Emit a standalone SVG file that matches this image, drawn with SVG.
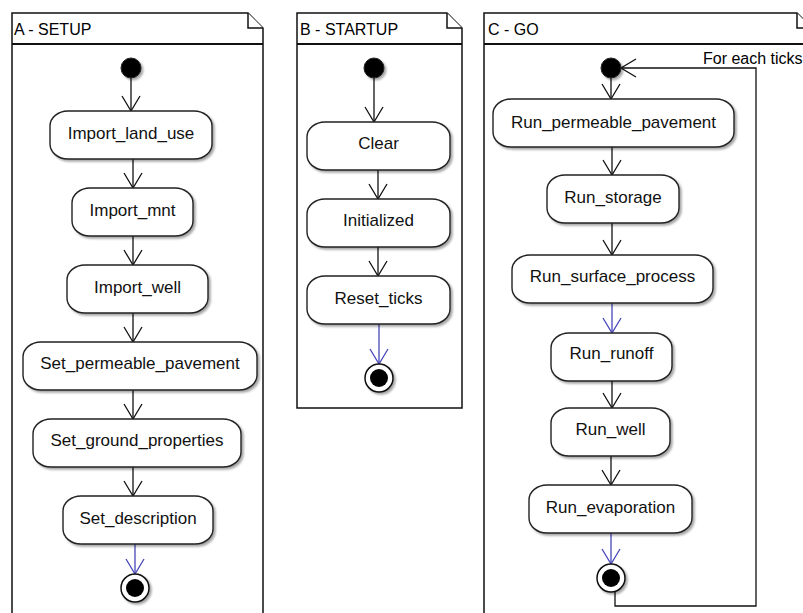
<svg xmlns="http://www.w3.org/2000/svg" width="803" height="613" viewBox="0 0 803 613">
<style>
.frame{fill:#fff;stroke:#111;stroke-width:1.5}
.sep{stroke:#111;stroke-width:2}
.ttl{font-family:"Liberation Sans",Arial,sans-serif;font-size:16px;fill:#000}
.box{fill:#fff;stroke:#222;stroke-width:1.4;filter:url(#sh)}
.lbl{font-family:"Liberation Sans",Arial,sans-serif;font-size:17px;fill:#111;text-anchor:middle}
.start{fill:#000;stroke:#222;stroke-width:1;filter:url(#sh)}
.endo{fill:#fff;stroke:#111;stroke-width:1.5;filter:url(#sh)}
.endi{fill:#000}
.ln{fill:none;stroke:#111;stroke-width:1.3;marker-end:url(#ah)}
.bl{fill:none;stroke:#4747b8;stroke-width:1.3;marker-end:url(#ahb)}
.loop{fill:none;stroke:#111;stroke-width:1.3;marker-end:url(#ah)}
</style>
<defs>
<filter id="sh" x="-20%" y="-20%" width="150%" height="160%">
<feDropShadow dx="2" dy="2" stdDeviation="1.3" flood-color="#000" flood-opacity="0.35"/>
</filter>
<marker id="ah" viewBox="-17 -11 19 22" refX="0" refY="0" markerWidth="19" markerHeight="22" markerUnits="userSpaceOnUse" orient="auto">
<path d="M-15,-9 L0,0 L-15,9" fill="none" stroke="#111" stroke-width="1.3"/>
</marker>
<marker id="ahb" viewBox="-17 -11 19 22" refX="0" refY="0" markerWidth="19" markerHeight="22" markerUnits="userSpaceOnUse" orient="auto">
<path d="M-15,-9 L0,0 L-15,9" fill="none" stroke="#4747b8" stroke-width="1.3"/>
</marker>
</defs>
<rect width="803" height="613" fill="#fff"/>

<g id="frameA">
<path class="frame" d="M12,13 H248 L263,28 V625 H12 Z"/>
<path class="frame" d="M248,13 V28 H263" fill="none"/>
<line class="sep" x1="12" y1="44" x2="263" y2="44"/>
<text class="ttl" x="14" y="35">A - SETUP</text>
</g>
<g id="frameB">
<path class="frame" d="M297,13 H447 L462,28 V408 H297 Z"/>
<path class="frame" d="M447,13 V28 H462" fill="none"/>
<line class="sep" x1="297" y1="44" x2="462" y2="44"/>
<text class="ttl" x="300" y="35">B - STARTUP</text>
</g>
<g id="frameC">
<path class="frame" d="M484,13 H797 L812,28 V625 H484 Z"/>
<path class="frame" d="M797,13 V28 H812" fill="none"/>
<line class="sep" x1="484" y1="44" x2="812" y2="44"/>
<text class="ttl" x="488" y="35">C - GO</text>
</g>

<g id="connectors">
<line class="ln" x1="131" y1="78" x2="131" y2="111"/>
<line class="ln" x1="133" y1="159" x2="133" y2="188"/>
<line class="ln" x1="133" y1="236" x2="133" y2="265"/>
<line class="ln" x1="133" y1="313" x2="133" y2="342"/>
<line class="ln" x1="133" y1="390" x2="133" y2="419"/>
<line class="ln" x1="133" y1="467" x2="133" y2="496"/>
<line class="bl" x1="135" y1="544" x2="135" y2="574"/>

<line class="ln" x1="374" y1="78" x2="374" y2="122"/>
<line class="ln" x1="378" y1="170" x2="378" y2="199"/>
<line class="ln" x1="378" y1="247" x2="378" y2="276"/>
<line class="bl" x1="379" y1="324" x2="379" y2="364"/>

<line class="ln" x1="611" y1="78" x2="611" y2="99"/>
<line class="ln" x1="612" y1="147" x2="612" y2="175"/>
<line class="ln" x1="612" y1="223" x2="612" y2="255"/>
<line class="bl" x1="612" y1="303" x2="612" y2="333"/>
<line class="ln" x1="612" y1="381" x2="612" y2="408"/>
<line class="ln" x1="611" y1="456" x2="611" y2="485"/>
<line class="bl" x1="611" y1="533" x2="611" y2="564"/>
<path class="loop" d="M615,592 V606 H756 V68 H621"/>
<text class="ttl" x="703" y="64">For each ticks</text>
</g>

<g id="A_start"><circle class="start" cx="131" cy="68" r="10"/></g>
<g id="Import_land_use"><rect class="box" x="50" y="111" width="162" height="48" rx="18" ry="15"/><text class="lbl" x="131" y="139">Import_land_use</text></g>
<g id="Import_mnt"><rect class="box" x="72" y="188" width="121" height="48" rx="18" ry="15"/><text class="lbl" x="132.5" y="216">Import_mnt</text></g>
<g id="Import_well"><rect class="box" x="67" y="265" width="141" height="48" rx="18" ry="15"/><text class="lbl" x="137.5" y="293">Import_well</text></g>
<g id="Set_permeable_pavement"><rect class="box" x="23" y="342" width="234" height="48" rx="18" ry="15"/><text class="lbl" x="140" y="369">Set_permeable_pavement</text></g>
<g id="Set_ground_properties"><rect class="box" x="33" y="419" width="208" height="48" rx="18" ry="15"/><text class="lbl" x="137" y="446">Set_ground_properties</text></g>
<g id="Set_description"><rect class="box" x="63" y="496" width="150" height="48" rx="18" ry="15"/><text class="lbl" x="138" y="524">Set_description</text></g>
<g id="A_end"><circle class="endo" cx="135" cy="588" r="14"/><circle class="endi" cx="135" cy="588" r="9"/></g>

<g id="B_start"><circle class="start" cx="374" cy="68" r="10"/></g>
<g id="Clear"><rect class="box" x="307" y="122" width="143" height="48" rx="18" ry="15"/><text class="lbl" x="378.5" y="149">Clear</text></g>
<g id="Initialized"><rect class="box" x="307" y="199" width="143" height="48" rx="18" ry="15"/><text class="lbl" x="378.5" y="226">Initialized</text></g>
<g id="Reset_ticks"><rect class="box" x="307" y="276" width="143" height="48" rx="18" ry="15"/><text class="lbl" x="378.5" y="304">Reset_ticks</text></g>
<g id="B_end"><circle class="endo" cx="379" cy="378" r="14"/><circle class="endi" cx="379" cy="378" r="9"/></g>

<g id="C_start"><circle class="start" cx="611" cy="68" r="10"/></g>
<g id="Run_permeable_pavement"><rect class="box" x="493" y="99" width="241" height="48" rx="18" ry="15"/><text class="lbl" x="613.5" y="128">Run_permeable_pavement</text></g>
<g id="Run_storage"><rect class="box" x="547" y="175" width="132" height="48" rx="18" ry="15"/><text class="lbl" x="613" y="203">Run_storage</text></g>
<g id="Run_surface_process"><rect class="box" x="512" y="255" width="201" height="48" rx="18" ry="15"/><text class="lbl" x="612.5" y="282">Run_surface_process</text></g>
<g id="Run_runoff"><rect class="box" x="551" y="333" width="121" height="48" rx="18" ry="15"/><text class="lbl" x="611.5" y="359">Run_runoff</text></g>
<g id="Run_well"><rect class="box" x="551" y="408" width="119" height="48" rx="18" ry="15"/><text class="lbl" x="610.5" y="435">Run_well</text></g>
<g id="Run_evaporation"><rect class="box" x="529" y="485" width="163" height="48" rx="18" ry="15"/><text class="lbl" x="610.5" y="513">Run_evaporation</text></g>
<g id="C_end"><circle class="endo" cx="611" cy="578" r="14"/><circle class="endi" cx="611" cy="578" r="9"/></g>
</svg>
